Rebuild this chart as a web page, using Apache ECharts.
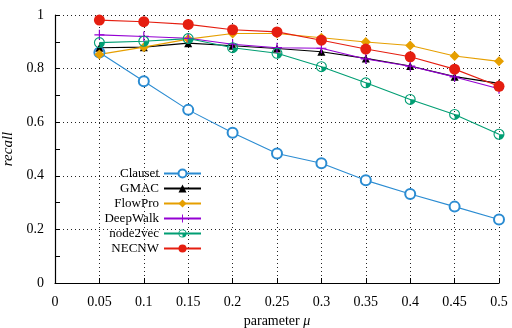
<!DOCTYPE html>
<html>
<head>
<meta charset="utf-8">
<script src="https://cdn.jsdelivr.net/npm/echarts@6/dist/echarts.min.js"></script>
<style>
  html, body { margin: 0; padding: 0; background: #fff; }
  #main { width: 512px; height: 328px; }
</style>
</head>
<body>
<div id="main"></div>
<script>
// parameter mu
var mu = [0.05, 0.1, 0.15, 0.2, 0.25, 0.3, 0.35, 0.4, 0.45, 0.5];

var clauset  = [0.86, 0.753, 0.646, 0.561, 0.483, 0.447, 0.383, 0.332, 0.285, 0.237];
var gmac     = [0.878, 0.88, 0.895, 0.885, 0.875, 0.863, 0.838, 0.81, 0.77, 0.745];
var flowpro  = [0.853, 0.88, 0.91, 0.931, 0.931, 0.915, 0.899, 0.886, 0.847, 0.827];
var deepwalk = [0.926, 0.92, 0.913, 0.891, 0.878, 0.876, 0.836, 0.809, 0.769, 0.725];
var node2vec = [0.897, 0.902, 0.912, 0.878, 0.857, 0.807, 0.747, 0.685, 0.629, 0.555];
var necnw    = [0.981, 0.975, 0.965, 0.945, 0.937, 0.906, 0.873, 0.844, 0.798, 0.734];

var serif = '"Liberation Serif", "DejaVu Serif", serif';

// ring with a filled quarter, like the gnuplot marker
var ringDot = 'path://M0 10A10 10 0 1 1 20 10A10 10 0 1 1 0 10Z' +
  'M2 10A8 8 0 1 0 18 10A8 8 0 1 0 2 10Z' +
  'M10 10L18 10A8 8 0 0 1 10 18Z';
var plus = 'path://M4.4 0H5.6V4.4H10V5.6H5.6V10H4.4V5.6H0V4.4H4.4Z';

function pairs(ys) {
  return mu.map(function (x, i) { return [x, ys[i]]; });
}

function line(name, ys, color, symbol, size, bw) {
  return {
    name: name,
    type: 'line',
    data: pairs(ys),
    symbol: symbol,
    symbolSize: size,
    lineStyle: { color: color, width: 1.1 },
    itemStyle: { color: color, borderColor: color, borderWidth: bw },
    animation: false
  };
}

var chart = echarts.init(document.getElementById('main'));
chart.setOption({
  textStyle: { fontFamily: serif },
  grid: { left: 55, right: 13, top: 15, bottom: 45, outerBoundsMode: 'none', containLabel: false },
  legend: {
    orient: 'vertical',
    right: 310,
    top: 167,
    padding: 0,
    align: 'right',
    itemWidth: 37,
    itemHeight: 10,
    itemGap: 2,
    textStyle: { fontFamily: serif, fontSize: 13, color: '#000' },
    data: ['Clauset', 'GMAC', 'FlowPro', 'DeepWalk', 'node2vec', 'NECNW']
  },
  xAxis: {
    type: 'value',
    min: 0,
    max: 0.5,
    interval: 0.05,
    name: 'parameter {i|μ}',
    nameLocation: 'middle',
    nameGap: 23,
    nameTextStyle: {
      fontFamily: serif, fontSize: 14, color: '#000',
      rich: { i: { fontFamily: serif, fontSize: 14, fontStyle: 'italic', color: '#000' } }
    },
    axisLine: { lineStyle: { color: '#000', width: 1.2 } },
    axisTick: { inside: true, length: 5, lineStyle: { color: '#000' } },
    axisLabel: { fontFamily: serif, fontSize: 14, color: '#000', margin: 12 },
    splitLine: { show: true, lineStyle: { color: '#222', type: [1, 3], width: 1 } }
  },
  yAxis: {
    type: 'value',
    min: 0,
    max: 1,
    interval: 0.2,
    name: 'recall',
    nameLocation: 'middle',
    nameGap: 33,
    nameTextStyle: { fontFamily: serif, fontSize: 15, fontStyle: 'italic', color: '#000' },
    axisLine: { show: true, lineStyle: { color: '#000', width: 1.2 } },
    axisTick: { show: true, inside: true, length: 5, lineStyle: { color: '#000' } },
    minorTick: { show: true, splitNumber: 2, length: 5, lineStyle: { color: '#000' } },
    axisLabel: { fontFamily: serif, fontSize: 14, color: '#000', margin: 11 },
    splitLine: { show: true, lineStyle: { color: '#222', type: [1, 3], width: 1 } }
  },
  series: [
    line('Clauset', clauset, '#2b8cd2', 'emptyCircle', 10, 1.3),
    line('GMAC', gmac, '#000000', 'triangle', 8, 0),
    line('FlowPro', flowpro, '#e69f00', 'diamond', 10, 0),
    line('DeepWalk', deepwalk, '#9400d3', plus, 10, 0),
    line('node2vec', node2vec, '#009e73', ringDot, 11, 0),
    line('NECNW', necnw, '#e51e10', 'circle', 11, 0)
  ]
});
</script>
</body>
</html>
